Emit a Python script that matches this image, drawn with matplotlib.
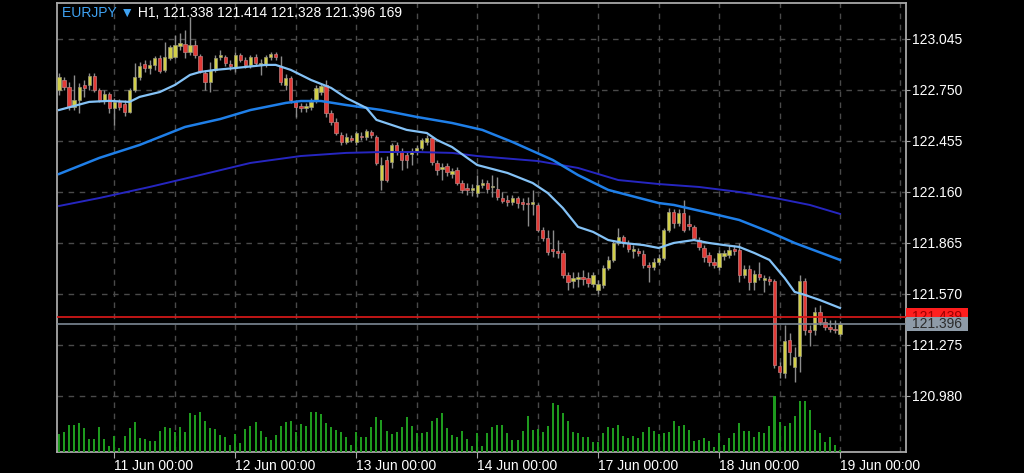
import numpy as np
import matplotlib.pyplot as plt
import matplotlib.transforms as mtransforms
from matplotlib.patches import Rectangle

plt.rcParams['font.family'] = ['Liberation Sans', 'DejaVu Sans']

# EURJPY H1, 10 Jun 13:00 .. 19 Jun 00:00 (weekend skipped)
opens = [122.750, 122.808, 122.767, 122.652, 122.692, 122.779, 122.779, 122.831, 122.750, 122.692,
         122.727, 122.646, 122.681, 122.669, 122.623, 122.750, 122.825, 122.900, 122.877, 122.895,
         122.935, 122.866, 122.935, 122.941, 123.005, 123.016, 122.970, 123.010, 122.947, 122.848,
         122.796, 122.866, 122.941, 122.941, 122.900, 122.877, 122.952, 122.924, 122.895, 122.941,
         122.895, 122.895, 122.941, 122.958, 122.889, 122.779, 122.819, 122.681, 122.658, 122.646,
         122.652, 122.692, 122.738, 122.779, 122.617, 122.565, 122.490, 122.449, 122.472, 122.449,
         122.484, 122.478, 122.507, 122.478, 122.229, 122.345, 122.334, 122.432, 122.391, 122.374,
         122.380, 122.391, 122.415, 122.449, 122.472, 122.328, 122.293, 122.310, 122.264, 122.287,
         122.212, 122.183, 122.172, 122.154, 122.201, 122.212, 122.189, 122.177, 122.125, 122.114,
         122.102, 122.125, 122.102, 122.096, 122.091, 122.085, 121.940, 121.894, 121.830, 121.819,
         121.807, 121.680, 121.645, 121.657, 121.668, 121.663, 121.628, 121.593, 121.622, 121.721,
         121.767, 121.865, 121.899, 121.865, 121.819, 121.819, 121.801, 121.738, 121.726, 121.755,
         121.778, 121.940, 122.044, 121.981, 122.039, 121.975, 121.958, 121.882, 121.836, 121.796,
         121.755, 121.726, 121.790, 121.796, 121.830, 121.825, 121.680, 121.715, 121.640, 121.686,
         121.651, 121.657, 121.645, 121.153, 121.113, 121.304, 121.148, 121.211, 121.645, 121.362,
         121.362, 121.466, 121.408, 121.380, 121.368, 121.338]
highs = [122.848, 122.825, 122.796, 122.837, 122.790, 122.808, 122.848, 122.848, 122.762, 122.750,
         122.738, 122.704, 122.698, 122.692, 122.762, 122.906, 122.912, 122.924, 122.924, 122.947,
         122.952, 123.028, 123.010, 123.068, 123.080, 123.097, 123.172, 123.039, 122.958, 122.866,
         122.912, 122.952, 122.981, 122.952, 122.924, 122.970, 122.964, 122.941, 122.952, 122.958,
         122.929, 122.952, 122.970, 122.970, 122.947, 122.843, 122.831, 122.692, 122.675, 122.675,
         122.704, 122.779, 122.785, 122.808, 122.634, 122.588, 122.507, 122.501, 122.490, 122.513,
         122.507, 122.525, 122.519, 122.490, 122.363, 122.368, 122.444, 122.449, 122.415, 122.391,
         122.415, 122.432, 122.472, 122.490, 122.484, 122.345, 122.328, 122.328, 122.299, 122.305,
         122.229, 122.212, 122.206, 122.258, 122.235, 122.229, 122.258, 122.247, 122.160, 122.143,
         122.143, 122.137, 122.125, 122.131, 122.172, 122.096, 121.958, 121.940, 121.940, 121.882,
         121.825, 121.697, 121.697, 121.697, 121.709, 121.697, 121.697, 121.651, 121.738, 121.790,
         121.882, 121.952, 121.911, 121.882, 121.853, 121.836, 121.825, 121.755, 121.778, 121.801,
         121.952, 122.067, 122.062, 122.062, 122.114, 122.027, 121.969, 121.900, 121.853, 121.813,
         121.778, 121.825, 121.825, 121.853, 121.853, 121.865, 121.738, 121.738, 121.709, 121.755,
         121.680, 121.674, 121.657, 121.177, 121.391, 121.345, 121.264, 121.680, 121.663, 121.391,
         121.495, 121.507, 121.432, 121.420, 121.420, 121.414]
lows = [122.721, 122.750, 122.634, 122.634, 122.617, 122.709, 122.750, 122.738, 122.681, 122.669,
        122.617, 122.548, 122.634, 122.600, 122.617, 122.738, 122.808, 122.854, 122.843, 122.866,
        122.848, 122.854, 122.924, 122.935, 122.981, 122.935, 122.952, 122.935, 122.848, 122.750,
        122.738, 122.854, 122.924, 122.889, 122.866, 122.854, 122.912, 122.877, 122.877, 122.889,
        122.837, 122.883, 122.924, 122.924, 122.779, 122.750, 122.675, 122.594, 122.623, 122.623,
        122.634, 122.675, 122.721, 122.594, 122.548, 122.490, 122.432, 122.438, 122.449, 122.432,
        122.461, 122.461, 122.472, 122.316, 122.172, 122.218, 122.299, 122.374, 122.287, 122.299,
        122.316, 122.374, 122.403, 122.432, 122.316, 122.258, 122.229, 122.253, 122.241, 122.201,
        122.154, 122.143, 122.137, 122.131, 122.183, 122.154, 122.131, 122.114, 122.096, 122.079,
        122.085, 122.067, 122.056, 121.963, 122.027, 121.929, 121.876, 121.796, 121.784, 121.778,
        121.663, 121.593, 121.605, 121.611, 121.622, 121.611, 121.611, 121.570, 121.605, 121.709,
        121.755, 121.853, 121.842, 121.813, 121.778, 121.790, 121.720, 121.640, 121.709, 121.738,
        121.767, 121.929, 121.952, 121.963, 121.929, 121.940, 121.882, 121.825, 121.755, 121.732,
        121.720, 121.709, 121.767, 121.778, 121.796, 121.640, 121.663, 121.593, 121.593, 121.651,
        121.582, 121.622, 121.142, 121.084, 121.084, 121.159, 121.061, 121.119, 121.333, 121.269,
        121.333, 121.391, 121.362, 121.350, 121.345, 121.328]
closes = [122.825, 122.767, 122.652, 122.692, 122.767, 122.762, 122.831, 122.750, 122.692, 122.727,
          122.646, 122.681, 122.652, 122.623, 122.750, 122.825, 122.889, 122.877, 122.895, 122.935,
          122.860, 122.941, 122.999, 123.010, 123.022, 122.970, 123.010, 122.952, 122.860, 122.796,
          122.866, 122.935, 122.952, 122.906, 122.889, 122.952, 122.924, 122.895, 122.941, 122.906,
          122.906, 122.941, 122.958, 122.941, 122.796, 122.819, 122.692, 122.652, 122.646, 122.658,
          122.681, 122.762, 122.773, 122.617, 122.565, 122.501, 122.449, 122.478, 122.461, 122.501,
          122.478, 122.513, 122.490, 122.328, 122.316, 122.229, 122.432, 122.391, 122.345, 122.345,
          122.391, 122.415, 122.461, 122.472, 122.334, 122.287, 122.305, 122.276, 122.281, 122.212,
          122.172, 122.172, 122.183, 122.201, 122.212, 122.177, 122.195, 122.131, 122.108, 122.102,
          122.125, 122.096, 122.091, 122.091, 122.102, 121.940, 121.894, 121.813, 121.819, 121.807,
          121.680, 121.640, 121.663, 121.668, 121.657, 121.634, 121.680, 121.628, 121.721, 121.767,
          121.865, 121.899, 121.871, 121.830, 121.830, 121.807, 121.738, 121.726, 121.755, 121.778,
          121.940, 122.044, 121.981, 122.039, 121.940, 121.963, 121.894, 121.842, 121.784, 121.755,
          121.738, 121.807, 121.807, 121.825, 121.819, 121.680, 121.715, 121.640, 121.686, 121.668,
          121.663, 121.645, 121.159, 121.119, 121.298, 121.234, 121.206, 121.645, 121.362, 121.350,
          121.466, 121.408, 121.380, 121.368, 121.362, 121.396]
volumes = [1800, 2030, 2700, 2700, 2870, 2370, 1300, 1300, 2470, 1300,
           600, 1600, 400, 1600, 2400, 3000, 1430, 1300, 1100, 1100,
           2100, 2470, 2370, 2030, 2470, 1970, 3870, 3700, 3970, 3100,
           2370, 2270, 1700, 1530, 700, 1800, 930, 2270, 2630, 3000,
           2100, 1470, 1200, 1700, 2630, 3000, 3100, 2030, 2830, 2600,
           3970, 3970, 3770, 2870, 2470, 2200, 1970, 1470, 700, 1970,
           1470, 1470, 2470, 3470, 3200, 2100, 1770, 2030, 2470, 3470,
           2630, 1870, 1870, 1970, 3100, 3370, 3870, 2370, 1700, 1470,
           2100, 1300, 600, 1870, 560, 1870, 2470, 2700, 2700, 1870,
           1200, 1200, 2100, 3600, 2200, 2300, 1970, 2600, 4870, 4700,
           3930, 3100, 1970, 1870, 1470, 1470, 970, 970, 1870, 2470,
           2370, 2700, 1600, 1370, 1600, 1370, 1970, 2470, 2100, 1800,
           1870, 1970, 3100, 2600, 2700, 2200, 1100, 1200, 1370, 1100,
           470, 1870, 700, 1370, 1870, 2870, 2100, 2100, 1470, 1970,
           1870, 2600, 5600, 2970, 2600, 2870, 3600, 5130, 5130, 4200,
           2200, 1870, 970, 1470, 700, 169]

# moving averages, read at sample bars
ma_fast_idx = [0, 6, 10, 14, 16, 20, 23, 26, 28, 31, 35, 41, 43, 46, 50, 54, 57, 61, 63, 66,
               69, 73, 75, 78, 83, 89, 94, 97, 100, 103, 106, 109, 112, 116, 119, 122, 126, 129,
               132, 135, 138, 141, 144, 146, 148, 151, 155]
ma_fast = [122.634, 122.681, 122.687, 122.681, 122.710, 122.738, 122.779, 122.837, 122.854, 122.866,
           122.877, 122.895, 122.895, 122.866, 122.808, 122.762, 122.704, 122.646, 122.577, 122.548,
           122.519, 122.501, 122.461, 122.420, 122.316, 122.270, 122.212, 122.154, 122.067, 121.958,
           121.929, 121.882, 121.865, 121.853, 121.836, 121.865, 121.882, 121.865, 121.853, 121.842,
           121.807, 121.767, 121.663, 121.582, 121.565, 121.535, 121.489]
ma_mid_idx = [0, 8, 16, 25, 32, 38, 45, 48, 52, 57, 64, 71, 78, 84, 90, 98, 103, 109, 119, 122,
              129, 135, 141, 146, 155]
ma_mid = [122.264, 122.357, 122.432, 122.536, 122.582, 122.634, 122.675, 122.686, 122.686, 122.663,
          122.634, 122.594, 122.559, 122.519, 122.449, 122.345, 122.258, 122.172, 122.096, 122.085,
          122.039, 121.998, 121.929, 121.865, 121.767]
ma_slow_idx = [0, 8, 18, 28, 38, 48, 57, 64, 71, 78, 83, 95, 103, 111, 119, 127, 135, 143, 149, 155]
ma_slow = [122.079, 122.125, 122.189, 122.258, 122.328, 122.368, 122.386, 122.391, 122.391, 122.386,
           122.368, 122.339, 122.299, 122.229, 122.206, 122.189, 122.160, 122.120, 122.085, 122.033]

price_ticks = [123.045, 122.750, 122.455, 122.160, 121.865, 121.570, 121.275, 120.980]
day_idx = [11, 35, 59, 83, 107, 131, 155]
day_labels = ['11 Jun 00:00', '12 Jun 00:00', '13 Jun 00:00', '14 Jun 00:00',
              '17 Jun 00:00', '18 Jun 00:00', '19 Jun 00:00']
ask = 121.439
bid = 121.396

idx = np.arange(len(closes))
o = np.array(opens)
c = np.array(closes)
up = c >= o

fig = plt.figure(figsize=(10.24, 4.73), dpi=100, facecolor='black')
ax = fig.add_axes([57 / 1024, 21 / 473, 849 / 1024, 449 / 473])
ax.set_facecolor('black')

# volumes on their own scale at the bottom
axv = ax.twinx()
axv.set_ylim(0, 44900)
axv.bar(idx, volumes, width=0.4, color='#1e9a1e', zorder=2)
axv.set_yticks([])
for s in axv.spines.values():
    s.set_visible(False)

ax.set_xlim(-0.4, 168.1)
ax.set_ylim(120.656, 123.253)

# grid
for p in price_ticks:
    ax.axhline(p, color='#4a4a4a', lw=1, ls=(0, (4, 4)), zorder=0)
for gx in range(11, 168, 12):
    ax.axvline(gx, color='#4a4a4a', lw=1, ls=(0, (4, 4)), zorder=0)

# candles
ax.vlines(idx, lows, highs, color='#8c8c8c', lw=1, zorder=2)
body_low = np.minimum(o, c)
body_h = np.maximum(np.abs(c - o), 0.005)
ax.bar(idx[up], body_h[up], bottom=body_low[up], width=0.66, color='#d2cf48',
       edgecolor='#9a9a80', linewidth=0.5, zorder=3)
ax.bar(idx[~up], body_h[~up], bottom=body_low[~up], width=0.66, color='#e23a36',
       edgecolor='#c08080', linewidth=0.5, zorder=3)

# moving averages
ax.plot(ma_slow_idx, ma_slow, color='#2626c0', lw=1.4, zorder=4)
ax.plot(ma_mid_idx, ma_mid, color='#1f7fe8', lw=1.8, zorder=4)
ax.plot(ma_fast_idx, ma_fast, color='#84c2f6', lw=1.6, zorder=4)

# ask / bid lines
ax.axhline(ask, color='#d01818', lw=1.3, zorder=5)
ax.axhline(bid, color='#7c8894', lw=1.2, zorder=5)

trans = mtransforms.blended_transform_factory(ax.transAxes, ax.transData)
ask_box = Rectangle((1.0, ask - 0.05), 0.073, 0.1, facecolor='#ff1e1e', edgecolor='none',
                    transform=trans, clip_on=False, zorder=6)
ax.add_patch(ask_box)
# the ask label is half covered by the bid label, as on the terminal
ask_clip = Rectangle((1.0, bid + 0.043), 0.073, 0.1, transform=trans, facecolor='none')
ask_txt = ax.text(1.037, ask, f'{ask:.3f}', transform=trans, color='#9a0000', fontsize=10,
                  ha='center', va='center', zorder=7)
ask_txt.set_clip_path(ask_clip)
ax.add_patch(Rectangle((1.0, bid - 0.043), 0.073, 0.086, facecolor='#8e9ba8', edgecolor='none',
                       transform=trans, clip_on=False, zorder=8))
ax.text(1.037, bid, f'{bid:.3f}', transform=trans, color='#2b2b2b', fontsize=10,
        ha='center', va='center', clip_on=False, zorder=9)

# axes styling
ax.yaxis.tick_right()
ax.set_yticks(price_ticks)
ax.set_yticklabels([f'{p:.3f}' for p in price_ticks])
ax.set_xticks(day_idx)
ax.set_xticklabels(day_labels)
for lbl in ax.get_xticklabels():
    lbl.set_ha('left')
ax.tick_params(axis='y', colors='#a8a8a8', labelcolor='white', labelsize=10, length=3, pad=1)
ax.tick_params(axis='x', colors='#a8a8a8', labelcolor='white', labelsize=10, length=4, pad=1)
for s in ax.spines.values():
    s.set_color('#a8a8a8')
    s.set_linewidth(1.3)

# header
t1 = ax.text(0.006, 0.978, 'EURJPY ▼', transform=ax.transAxes, color='#3fa2f2',
             fontsize=10, ha='left', va='center', zorder=10)
ax.annotate(' H1, 121.338 121.414 121.328 121.396 169', xy=(1, 0.5), xycoords=t1,
            color='white', fontsize=10, ha='left', va='center', zorder=10)

fig.savefig('out.png', dpi=100, facecolor='black')
